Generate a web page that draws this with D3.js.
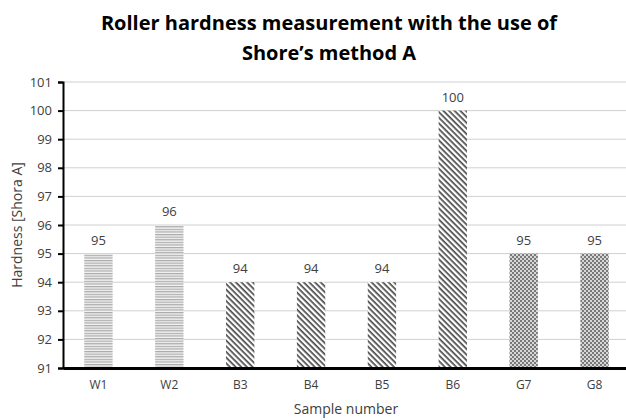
<!DOCTYPE html>
<html>
<head>
<meta charset="utf-8">
<script src="https://cdn.jsdelivr.net/npm/d3@7"></script>
<style>
  body { margin: 0; background: #fff; }
  text { font-family: "Open Sans", "Liberation Sans", sans-serif; }
</style>
</head>
<body>
<svg id="chart" width="626" height="420"></svg>
<script>
// chart data
var samples = ["W1", "W2", "B3", "B4", "B5", "B6", "G7", "G8"];
var hardness = [95, 96, 94, 94, 94, 100, 95, 95];
var groups = ["W", "W", "B", "B", "B", "B", "G", "G"];
var yTicks = [91, 92, 93, 94, 95, 96, 97, 98, 99, 100, 101];

var svg = d3.select("#chart");
var margin = { left: 63, top: 82, right: -4, bottom: 52 };
var width = 626, height = 420;

var x = d3.scaleBand()
  .domain(samples)
  .range([margin.left, width - margin.right])
  .paddingInner(0.6)
  .paddingOuter(0.3);

var y = d3.scaleLinear()
  .domain([91, 101])
  .range([height - margin.bottom, margin.top]);

// patterns for the three groups
var defs = svg.append("defs");

// horizontal lines (W)
var pw = defs.append("pattern").attr("id", "patW")
  .attr("patternUnits", "userSpaceOnUse").attr("width", 4).attr("height", 2.6);
pw.append("rect").attr("width", 4).attr("height", 2.6).attr("fill", "#f2f2f2");
pw.append("rect").attr("width", 4).attr("height", 1.2).attr("fill", "#aaaaaa");

// diagonal lines (B), running top-left to bottom-right
var pb = defs.append("pattern").attr("id", "patB")
  .attr("patternUnits", "userSpaceOnUse").attr("width", 4).attr("height", 4)
  .attr("patternTransform", "rotate(45)");
pb.append("rect").attr("width", 4).attr("height", 4).attr("fill", "#ffffff");
pb.append("rect").attr("width", 4).attr("height", 1.7).attr("fill", "#4a4a4a");

// checkers (G)
var pg = defs.append("pattern").attr("id", "patG")
  .attr("patternUnits", "userSpaceOnUse").attr("width", 4).attr("height", 4);
pg.append("rect").attr("width", 4).attr("height", 4).attr("fill", "#d6d6d6");
pg.append("rect").attr("width", 2).attr("height", 2).attr("fill", "#7a7a7a");
pg.append("rect").attr("x", 2).attr("y", 2).attr("width", 2).attr("height", 2).attr("fill", "#7a7a7a");

var fills = { W: "url(#patW)", B: "url(#patB)", G: "url(#patG)" };

// gridlines
svg.append("g").selectAll("line")
  .data(yTicks.slice(1))
  .join("line")
  .attr("x1", margin.left).attr("x2", width)
  .attr("y1", d => y(d)).attr("y2", d => y(d))
  .attr("stroke", "#d0d0d0").attr("stroke-width", 1);

// bars
var data = samples.map((s, i) => ({ name: s, value: hardness[i], group: groups[i] }));

svg.append("g").selectAll("rect")
  .data(data)
  .join("rect")
  .attr("x", d => x(d.name))
  .attr("width", x.bandwidth())
  .attr("y", d => y(d.value))
  .attr("height", d => y(91) - y(d.value))
  .attr("fill", d => fills[d.group]);

// value labels
svg.append("g").selectAll("text")
  .data(data)
  .join("text")
  .attr("x", d => x(d.name) + x.bandwidth() / 2)
  .attr("y", d => y(d.value) - 9)
  .attr("text-anchor", "middle")
  .attr("font-size", 13)
  .attr("fill", "#404040")
  .text(d => d.value);

// y axis
var yAxis = svg.append("g")
  .attr("transform", "translate(" + margin.left + ",0)")
  .call(d3.axisLeft(y).tickValues(yTicks).tickSize(5).tickPadding(6).tickFormat(d3.format("d")));
yAxis.select(".domain").attr("stroke", "#000").attr("stroke-width", 2);
yAxis.selectAll(".tick line").attr("stroke", "#000").attr("stroke-width", 2);
yAxis.selectAll("text").attr("font-size", 13).attr("fill", "#404040")
  .style("font-family", "'Open Sans', sans-serif");

// x axis
var xAxis = svg.append("g")
  .attr("transform", "translate(0," + y(91) + ")")
  .call(d3.axisBottom(x).tickSize(0).tickPadding(12));
xAxis.select(".domain").attr("stroke", "#000").attr("stroke-width", 3);
xAxis.selectAll("text").attr("font-size", 12).attr("fill", "#404040")
  .style("font-family", "'Open Sans', sans-serif");

// title
var title = svg.append("text")
  .attr("text-anchor", "middle")
  .attr("font-size", 20)
  .attr("font-weight", "bold")
  .attr("fill", "#000");
title.append("tspan").attr("x", 329).attr("y", 30).text("Roller hardness measurement with the use of");
title.append("tspan").attr("x", 329).attr("y", 60).text("Shore’s method A");

// axis titles
svg.append("text")
  .attr("transform", "translate(22," + ((y(91) + y(101)) / 2) + ") rotate(-90)")
  .attr("text-anchor", "middle")
  .attr("font-size", 14)
  .attr("fill", "#404040")
  .text("Hardness [Shora A]");

svg.append("text")
  .attr("x", 346).attr("y", 414)
  .attr("text-anchor", "middle")
  .attr("font-size", 14)
  .attr("fill", "#404040")
  .text("Sample number");
</script>
</body>
</html>
